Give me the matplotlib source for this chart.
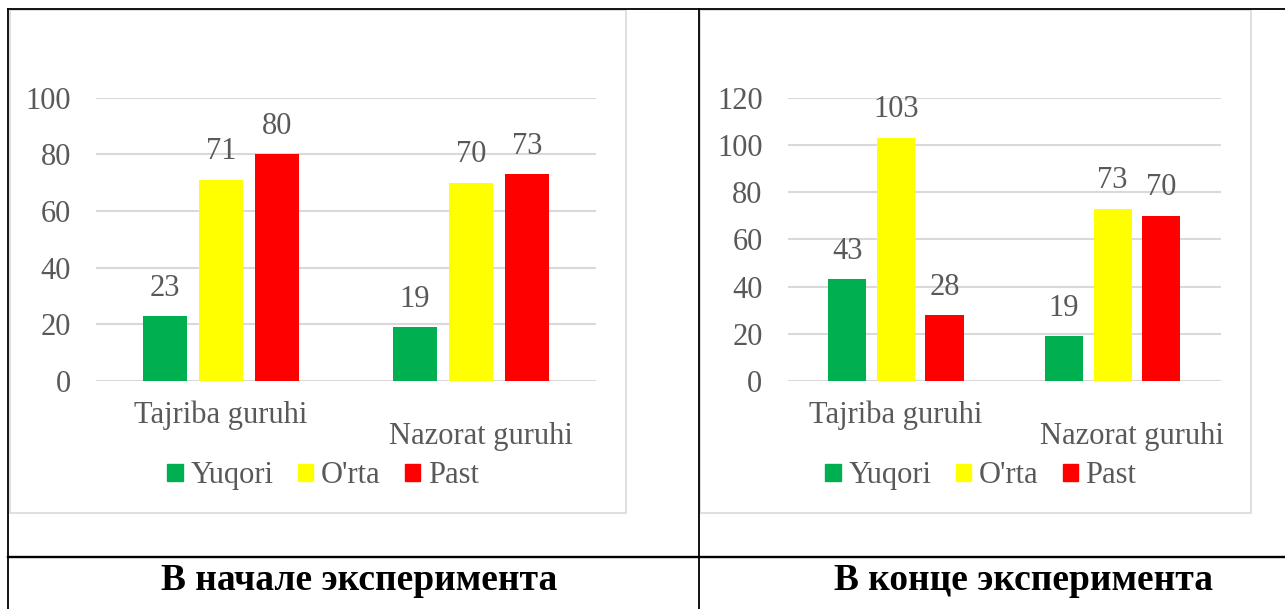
import numpy as np
import matplotlib.pyplot as plt
from matplotlib.patches import Patch, Rectangle
from matplotlib.lines import Line2D
from matplotlib.transforms import blended_transform_factory

plt.rcParams['font.family'] = ['Liberation Serif', 'DejaVu Serif']

groups = ["Tajriba guruhi", "Nazorat guruhi"]
series = ["Yuqori", "O'rta", "Past"]
colors = ["#00B050", "#FFFF00", "#FF0000"]

# В начале эксперимента
start_yuqori = [23, 19]
start_orta = [71, 70]
start_past = [80, 73]

# В конце эксперимента
end_yuqori = [43, 19]
end_orta = [103, 73]
end_past = [28, 70]

captions = ["В начале эксперимента", "В конце эксперимента"]

W, H = 1285, 609
fig = plt.figure(figsize=(W / 100, H / 100), dpi=100)
gray = "#595959"
grid = "#D9D9D9"


def fx(px):
    return px / W


def fy(py):
    return 1 - py / H


def draw_chart(rect, values, ymax, step, leg_x, nazorat_dx):
    ax = fig.add_axes(rect)
    x = np.arange(len(groups))
    width = 0.176
    offs = [-0.224, 0, 0.224]
    for vals, off, c in zip(values, offs, colors):
        bars = ax.bar(x + off, vals, width, color=c, zorder=3)
        for b, v in zip(bars, vals):
            ax.annotate(str(v), (b.get_x() + b.get_width() / 2, v),
                        xytext=(0, 20), textcoords="offset points",
                        ha="center", va="center", fontsize=22, color=gray)
    ax.set_xlim(-0.5, 1.5)
    ax.set_ylim(0, ymax)
    ax.set_yticks(np.arange(0, ymax + 1, step))
    ax.tick_params(axis="y", length=0, pad=18, labelsize=22, labelcolor=gray)
    ax.set_xticks([])
    for s in ax.spines.values():
        s.set_visible(False)
    ax.yaxis.grid(True, color=grid, lw=1.5, zorder=0)
    ax.set_axisbelow(True)
    tr = blended_transform_factory(ax.transData, ax.transAxes)
    ax.text(0, -0.12, groups[0], transform=tr, ha="center", va="center",
            fontsize=22, color=gray)
    ax.text(1 + nazorat_dx, -0.195, groups[1], transform=tr, ha="center",
            va="center", fontsize=22, color=gray)
    handles = [Patch(color=c, label=s) for c, s in zip(colors, series)]
    leg = ax.legend(handles=handles, ncol=3, loc="center",
                    bbox_to_anchor=(leg_x, -0.335), frameon=False,
                    fontsize=22, handlelength=0.5, handleheight=0.5,
                    handletextpad=0.25, columnspacing=0.8)
    for t in leg.get_texts():
        t.set_color(gray)
    return ax


draw_chart([fx(96), fy(381), fx(500), (381 - 97.5) / H],
           [start_yuqori, start_orta, start_past], 100, 20, 0.454, 0.04)
draw_chart([fx(787.5), fy(381), fx(433.5), (381 - 97.5) / H],
           [end_yuqori, end_orta, end_past], 120, 20, 0.446, 0.09)

# chart frames
for x0, x1 in [(9.5, 626), (700.5, 1251)]:
    fig.add_artist(Rectangle((fx(x0), fy(513)), fx(x1 - x0), (513 - 10) / H,
                             transform=fig.transFigure, fill=False,
                             edgecolor=grid, lw=1.2))

# table lines
lines = [((8, 8), (8.5, H), 1.3), ((8, W), (8.5, 8.5), 1.3),
         ((699.3, 699.3), (8.5, H), 1.3), ((8, W), (556.7, 556.7), 1.7)]
for xs, ys, lw in lines:
    fig.add_artist(Line2D([fx(v) for v in xs], [fy(v) for v in ys],
                          transform=fig.transFigure, color="black", lw=lw))

for cx, cap in zip([359, 1024], captions):
    fig.text(fx(cx), fy(580), cap, ha="center", va="center",
             fontsize=27, fontweight="bold", color="black")

fig.savefig("out.png", dpi=100)
